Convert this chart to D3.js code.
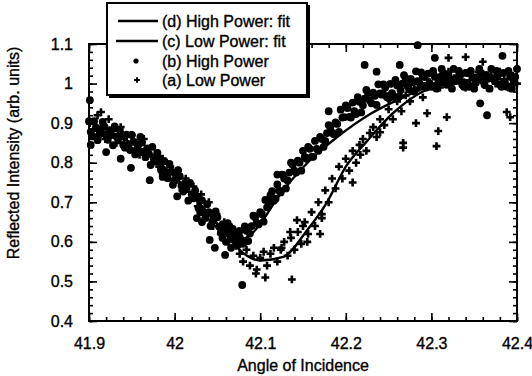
<!DOCTYPE html>
<html>
<head>
<meta charset="utf-8">
<script src="https://cdn.jsdelivr.net/npm/d3@7"></script>
<style>
  body { margin: 0; background: #fff; }
  text { font-family: "Liberation Sans", Arial, Helvetica, sans-serif; fill: #000; stroke: #000; stroke-width: 0.35px; }
</style>
</head>
<body>
<script>
// tick labels
const xTicks = [41.9, 42, 42.1, 42.2, 42.3, 42.4];
const yTicks = [0.4, 0.5, 0.6, 0.7, 0.8, 0.9, 1, 1.1];

// fitted curves
const fitHigh = [
  [41.90, 0.885], [41.95, 0.85], [42.00, 0.765], [42.04, 0.67], [42.06, 0.625],
  [42.075, 0.605], [42.09, 0.62], [42.10, 0.645], [42.12, 0.71], [42.16, 0.81],
  [42.19, 0.865], [42.23, 0.925], [42.27, 0.968], [42.30, 0.995], [42.34, 1.008],
  [42.40, 1.012]
];
const fitLow = [
  [41.90, 0.885], [41.95, 0.85], [42.00, 0.765], [42.04, 0.67], [42.06, 0.62],
  [42.08, 0.572], [42.10, 0.553], [42.127, 0.562], [42.155, 0.63], [42.178, 0.70],
  [42.20, 0.79], [42.225, 0.855], [42.255, 0.925], [42.29, 0.98],
  [42.32, 1.0], [42.36, 1.01], [42.40, 1.012]
];

// (b) high power measurements
const highPower = [
  [41.900,0.905],[41.904,0.867],[41.908,0.889],[41.912,0.871],[41.916,0.903],[41.920,0.870],
  [41.924,0.882],[41.928,0.844],[41.932,0.866],[41.936,0.883],[41.940,0.845],[41.944,0.871],
  [41.948,0.832],[41.952,0.853],[41.956,0.834],[41.960,0.865],[41.964,0.828],[41.968,0.836],
  [41.972,0.794],[41.976,0.812],[41.980,0.825],[41.984,0.782],[41.988,0.804],[41.992,0.761],
  [41.996,0.778],[42.000,0.755],[42.004,0.781],[42.008,0.742],[42.012,0.748],[42.016,0.704],
  [42.020,0.720],[42.024,0.730],[42.028,0.685],[42.032,0.705],[42.036,0.660],[42.040,0.675],
  [42.044,0.651],[42.048,0.677],[42.052,0.638],[42.056,0.644],[42.060,0.600],[42.064,0.619],
  [42.068,0.633],[42.072,0.596],[42.076,0.628],[42.080,0.595],[42.084,0.628],[42.088,0.621],
  [42.092,0.666],[42.096,0.648],[42.100,0.675],[42.104,0.651],[42.108,0.687],[42.112,0.718],
  [42.116,0.704],[42.120,0.745],[42.124,0.725],[42.128,0.760],[42.132,0.755],[42.136,0.800],
  [42.140,0.780],[42.144,0.805],[42.148,0.780],[42.152,0.815],[42.156,0.840],[42.160,0.815],
  [42.164,0.855],[42.168,0.830],[42.172,0.860],[42.176,0.855],[42.180,0.895],[42.184,0.876],
  [42.188,0.902],[42.192,0.878],[42.196,0.914],[42.200,0.945],[42.204,0.916],[42.208,0.952],
  [42.212,0.923],[42.216,0.954],[42.220,0.945],[42.224,0.984],[42.228,0.958],[42.232,0.977],
  [42.236,0.946],[42.240,0.975],[42.244,0.998],[42.248,0.966],[42.252,0.999],[42.256,0.967],
  [42.260,0.995],[42.264,0.983],[42.268,1.021],[42.272,0.994],[42.276,1.012],[42.280,0.980],
  [42.284,1.006],[42.288,1.028],[42.292,0.994],[42.296,1.025],[42.300,0.992],[42.304,1.017],
  [42.308,1.002],[42.312,1.037],[42.316,1.007],[42.320,1.022],[42.324,0.987],[42.328,1.012],
  [42.332,1.032],[42.336,0.997],[42.340,1.027],[42.344,0.992],[42.348,1.017],[42.352,1.002],
  [42.356,1.037],[42.360,1.007],[42.364,1.022],[42.368,0.987],[42.372,1.012],[42.376,1.032],
  [42.380,0.997],[42.384,1.027],[42.388,0.992],[42.392,1.017],[42.396,1.002],[42.400,1.037],
  [41.902,0.878],[41.906,0.905],[41.910,0.857],[41.914,0.884],[41.918,0.891],[41.922,0.858],
  [41.926,0.870],[41.930,0.892],[41.934,0.859],[41.938,0.871],[41.942,0.838],[41.946,0.844],
  [41.950,0.870],[41.954,0.821],[41.958,0.847],[41.962,0.851],[41.966,0.814],[41.970,0.822],
  [41.974,0.840],[41.978,0.803],[41.982,0.811],[41.986,0.773],[41.990,0.775],[41.994,0.797],
  [41.998,0.744],[42.002,0.765],[42.006,0.766],[42.010,0.727],[42.014,0.733],[42.018,0.749],
  [42.022,0.710],[42.026,0.715],[42.030,0.675],[42.034,0.675],[42.038,0.695],[42.042,0.640],
  [42.046,0.661],[42.050,0.662],[42.054,0.623],[42.058,0.629],[42.062,0.647],[42.066,0.611],
  [42.070,0.620],[42.074,0.592],[42.078,0.604],[42.082,0.639],[42.086,0.602],[42.090,0.640],
  [42.094,0.662],[42.098,0.644],[42.102,0.670],[42.106,0.706],[42.110,0.700],[42.114,0.728],
  [42.118,0.709],[42.122,0.730],[42.126,0.770],[42.130,0.735],[42.134,0.775],[42.138,0.795],
  [42.142,0.775],[42.146,0.800],[42.150,0.830],[42.154,0.810],[42.158,0.835],[42.162,0.815],
  [42.166,0.835],[42.170,0.865],[42.174,0.840],[42.178,0.875],[42.182,0.891],[42.186,0.872],
  [42.190,0.898],[42.194,0.934],[42.198,0.915],[42.202,0.938],[42.206,0.914],[42.210,0.930],
  [42.214,0.966],[42.218,0.927],[42.222,0.962],[42.226,0.976],[42.230,0.950],[42.234,0.969],
  [42.238,0.998],[42.242,0.972],[42.246,0.990],[42.250,0.963],[42.254,0.976],[42.258,1.009],
  [42.262,0.967],[42.266,1.000],[42.270,1.013],[42.274,0.985],[42.278,1.003],[42.282,1.031],
  [42.286,1.002],[42.290,1.018],[42.294,0.990],[42.298,1.000],[42.302,1.032],[42.306,0.987],
  [42.310,1.017],[42.314,1.027],[42.318,0.997],[42.322,1.012],[42.326,1.037],[42.330,1.007],
  [42.334,1.022],[42.338,0.992],[42.342,1.002],[42.346,1.032],[42.350,0.987],[42.354,1.017],
  [42.358,1.027],[42.362,0.997],[42.366,1.012],[42.370,1.037],[42.374,1.007],[42.378,1.022],
  [42.382,0.992],[42.386,1.002],[42.390,1.032],[42.394,0.987],[42.398,1.017],
  [42.079,0.491],[42.284,1.097],[42.263,1.047],[42.222,1.047],[42.236,1.030],[42.304,1.065],
  [42.383,1.070],[42.365,0.920],[42.357,0.950],[42.026,0.660],[42.032,0.650],[42.003,0.715],
  [42.047,0.585],[42.059,0.567],[42.041,0.605],[41.920,0.827],[41.937,0.810],[41.949,0.787],
  [41.971,0.756],[41.986,0.764],[41.902,0.845],[41.901,0.958],[42.120,0.770],[42.180,0.930],
  [42.064,0.640],[42.070,0.605],[42.066,0.585],[42.076,0.612],[42.056,0.610]
];

// (a) low power measurements
const lowPower = [
  [41.901,0.900],[41.905,0.870],[41.910,0.920],[41.914,0.890],[41.919,0.860],[41.923,0.910],
  [41.928,0.880],[41.932,0.850],[41.937,0.890],[41.941,0.860],[41.946,0.840],[41.950,0.870],
  [41.955,0.850],[41.959,0.820],[41.964,0.860],[41.968,0.830],[41.973,0.800],[41.977,0.820],
  [41.982,0.790],[41.986,0.810],[41.991,0.770],[41.995,0.790],[42.000,0.750],[42.004,0.780],
  [42.009,0.730],[42.013,0.760],[42.018,0.710],[42.022,0.740],[42.027,0.690],[42.031,0.720],
  [42.036,0.660],[42.040,0.700],[42.045,0.640],[42.049,0.670],[42.054,0.620],[42.058,0.650],
  [42.063,0.600],[42.067,0.630],[42.072,0.590],[42.076,0.570],
  [42.080,0.550],[42.084,0.580],[42.088,0.540],[42.092,0.565],[42.096,0.530],[42.100,0.560],
  [42.104,0.575],[42.108,0.540],[42.112,0.570],[42.116,0.585],[42.120,0.550],[42.124,0.580],
  [42.128,0.600],[42.132,0.565],[42.136,0.610],[42.140,0.580],[42.144,0.625],[42.148,0.595],
  [42.152,0.650],[42.156,0.620],[42.160,0.675],[42.164,0.640],[42.168,0.700],[42.172,0.670],
  [42.176,0.730],[42.180,0.700],[42.184,0.760],[42.188,0.735],[42.192,0.790],[42.196,0.760],
  [42.200,0.810],[42.204,0.780],[42.208,0.830],[42.212,0.800],[42.216,0.845],[42.220,0.860],
  [42.224,0.830],[42.228,0.875],[42.232,0.890],[42.236,0.865],[42.240,0.910],[42.245,0.895],
  [42.250,0.935],[42.255,0.910],[42.260,0.955],[42.265,0.930],[42.270,0.970],[42.275,0.955],
  [42.280,0.985],[42.285,0.990],[42.290,0.965],[42.295,1.010],[42.300,1.000],[42.305,1.020],
  [42.310,0.990],[42.315,1.010],[42.320,1.030],[42.325,1.000],[42.330,1.020],[42.335,1.010],
  [42.340,0.990],[42.345,1.020],[42.350,1.000],[42.355,1.030],[42.360,1.010],[42.365,0.990],
  [42.370,1.020],[42.375,1.000],[42.380,1.030],[42.385,1.010],[42.390,0.990],[42.395,1.020],
  [42.400,1.000],
  [42.240,0.877],[42.267,0.850],[42.267,0.838],[42.308,0.880],[42.306,0.842],[42.318,0.915],
  [42.295,0.925],[42.208,0.750],[42.217,0.820],[42.388,0.928],[42.392,0.915],[42.320,1.065],
  [42.340,1.067],[42.360,1.055],[41.914,0.928],[42.106,0.510],[42.137,0.505],[42.135,0.625],
  [42.155,0.600],[42.170,0.620],[42.172,0.660],[42.125,0.585],[42.095,0.520],[42.250,0.960],
  [42.282,0.900],[42.246,0.975],[42.143,0.655],[42.150,0.640]
];

const xScale = d3.scaleLinear().domain([41.9, 42.4]).range([89, 517]);
const yScale = d3.scaleLinear().domain([0.4, 1.1]).range([321, 44]);

const svg = d3.select("body").append("svg")
  .attr("width", 532)
  .attr("height", 376);

const fmt = d => String(d);

// minor ticks on all four sides
const minorX = xScale.ticks(25);
const minorY = yScale.ticks(35);

function styleAxis(g) {
  g.select(".domain").remove();
  g.selectAll("line").attr("stroke", "#000").attr("stroke-width", 1.6);
  g.selectAll("text").attr("font-size", 16).attr("fill", "#000");
}

svg.append("g").attr("transform", "translate(0,321)")
  .call(d3.axisBottom(xScale).tickValues(minorX).tickSize(-4).tickFormat(""))
  .call(styleAxis);
svg.append("g").attr("transform", "translate(0,44)")
  .call(d3.axisTop(xScale).tickValues(minorX).tickSize(-4).tickFormat(""))
  .call(styleAxis);
svg.append("g").attr("transform", "translate(89,0)")
  .call(d3.axisLeft(yScale).tickValues(minorY).tickSize(-4).tickFormat(""))
  .call(styleAxis);
svg.append("g").attr("transform", "translate(517,0)")
  .call(d3.axisRight(yScale).tickValues(minorY).tickSize(-4).tickFormat(""))
  .call(styleAxis);

// major ticks with labels
svg.append("g").attr("transform", "translate(0,321)")
  .call(d3.axisBottom(xScale).tickValues(xTicks).tickSize(-8).tickPadding(17).tickFormat(fmt))
  .call(styleAxis);
svg.append("g").attr("transform", "translate(0,44)")
  .call(d3.axisTop(xScale).tickValues(xTicks).tickSize(-8).tickFormat(""))
  .call(styleAxis);
svg.append("g").attr("transform", "translate(89,0)")
  .call(d3.axisLeft(yScale).tickValues(yTicks).tickSize(-8).tickPadding(16).tickFormat(fmt))
  .call(styleAxis);
svg.append("g").attr("transform", "translate(517,0)")
  .call(d3.axisRight(yScale).tickValues(yTicks).tickSize(-8).tickFormat(""))
  .call(styleAxis);

// frame
svg.append("rect")
  .attr("x", 89).attr("y", 44)
  .attr("width", 517 - 89).attr("height", 321 - 44)
  .attr("fill", "none").attr("stroke", "#000").attr("stroke-width", 2);

// data points
const plot = svg.append("g");

plot.selectAll("circle.high")
  .data(highPower)
  .enter().append("circle")
  .attr("class", "high")
  .attr("cx", d => xScale(d[0]))
  .attr("cy", d => yScale(d[1]))
  .attr("r", 3.9)
  .attr("fill", "#000");

const plus = d3.symbol().type(d3.symbolCross).size(34);
plot.selectAll("path.low")
  .data(lowPower)
  .enter().append("path")
  .attr("class", "low")
  .attr("transform", d => `translate(${xScale(d[0])},${yScale(d[1])})`)
  .attr("d", plus)
  .attr("fill", "#000");

// fit lines
const line = d3.line()
  .x(d => xScale(d[0]))
  .y(d => yScale(d[1]))
  .curve(d3.curveMonotoneX);

plot.append("path").datum(fitHigh)
  .attr("d", line).attr("fill", "none").attr("stroke", "#000").attr("stroke-width", 2.4);
plot.append("path").datum(fitLow)
  .attr("d", line).attr("fill", "none").attr("stroke", "#000").attr("stroke-width", 2.4);

// legend
const legendItems = ["(d) High Power: fit", "(c) Low Power: fit", "(b) High Power", "(a) Low Power"];
const legend = svg.append("g");
legend.append("rect")
  .attr("x", 109).attr("y", 5).attr("width", 201).attr("height", 93)
  .attr("fill", "#000");
legend.append("rect")
  .attr("x", 107).attr("y", 3).attr("width", 200).attr("height", 92)
  .attr("fill", "#fff").attr("stroke", "#000").attr("stroke-width", 2);

const rowY = [21, 41, 61, 80];
legendItems.forEach((label, i) => {
  const y = rowY[i];
  if (i < 2) {
    legend.append("line")
      .attr("x1", i === 0 ? 118 : 116).attr("x2", 158)
      .attr("y1", y).attr("y2", y)
      .attr("stroke", "#000").attr("stroke-width", 2.4);
  } else if (i === 2) {
    legend.append("circle").attr("cx", 136).attr("cy", y).attr("r", 2.6).attr("fill", "#000");
  } else {
    legend.append("path").attr("transform", `translate(137,${y})`)
      .attr("d", d3.symbol().type(d3.symbolCross).size(18)).attr("fill", "#000");
  }
  legend.append("text")
    .attr("x", 162).attr("y", y + 6)
    .attr("font-size", 16)
    .text(label);
});

// axis titles
svg.append("text")
  .attr("x", 303).attr("y", 371)
  .attr("text-anchor", "middle")
  .attr("font-size", 16)
  .text("Angle of Incidence");

svg.append("text")
  .attr("transform", "translate(19,153) rotate(-90)")
  .attr("text-anchor", "middle")
  .attr("font-size", 16)
  .text("Reflected Intensity (arb. units)");
</script>
</body>
</html>
